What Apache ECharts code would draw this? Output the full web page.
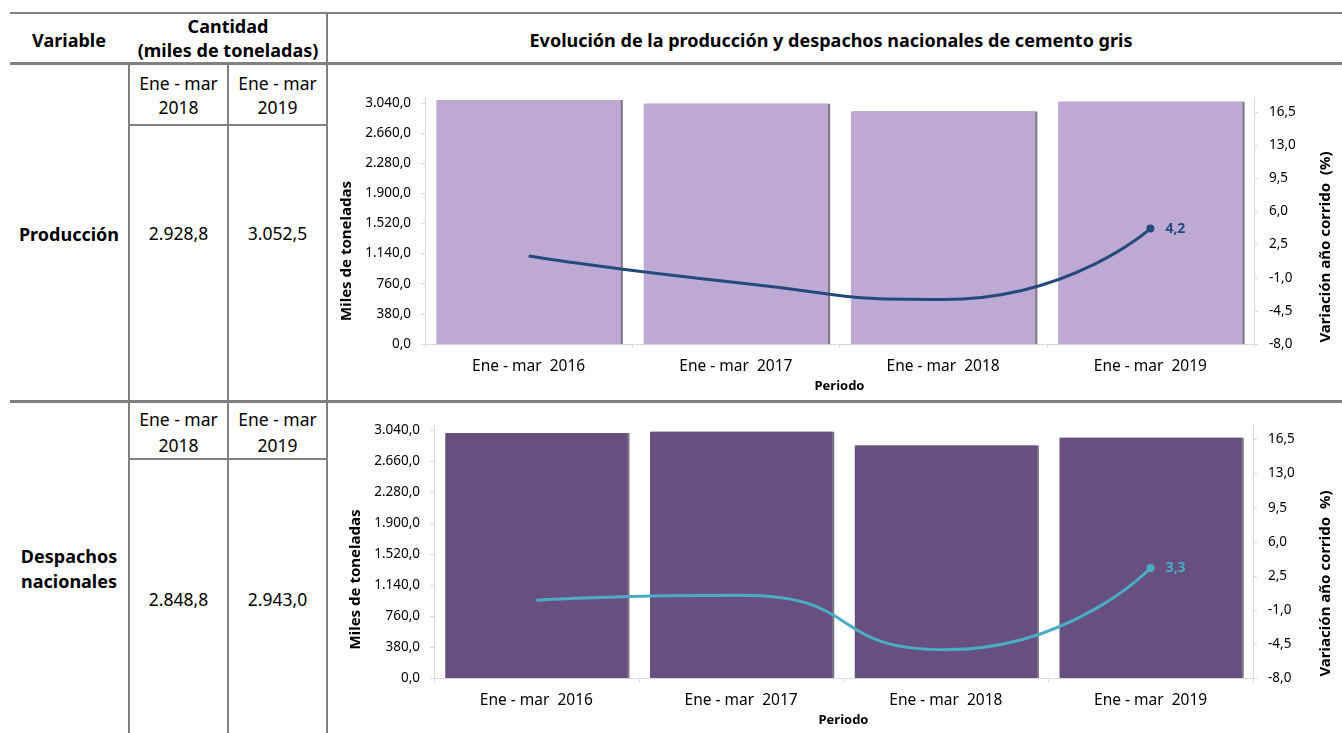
<!DOCTYPE html>
<html>
<head>
<meta charset="utf-8">
<script src="https://cdn.jsdelivr.net/npm/echarts@6/dist/echarts.min.js"></script>
<style>
  html, body { margin: 0; padding: 0; background: #fff; }
  body { width: 1342px; height: 733px; position: relative; overflow: hidden; font-family: "Noto Sans", sans-serif; color: #000; }
  .t { position: absolute; transform: translate(-50%, -50%); white-space: nowrap; font-size: 17.5px; line-height: 1; }
  .b { font-weight: bold; font-size: 18px; }
  .ln { position: absolute; background: #808080; }
  .chart { position: absolute; left: 330px; width: 1012px; }
</style>
</head>
<body>
<!-- lineas de la tabla -->
<div class="ln" style="left:10px;top:12px;width:1332px;height:2px"></div>
<div class="ln" style="left:10px;top:62px;width:1332px;height:3px"></div>
<div class="ln" style="left:10px;top:400px;width:1332px;height:3px"></div>
<div class="ln" style="left:128px;top:64px;width:2px;height:669px"></div>
<div class="ln" style="left:227px;top:64px;width:2px;height:669px"></div>
<div class="ln" style="left:326px;top:12px;width:2px;height:721px"></div>
<div class="ln" style="left:129px;top:124px;width:198px;height:2px"></div>
<div class="ln" style="left:129px;top:458px;width:198px;height:2px"></div>

<div class="t b" style="left:69px;top:40px">Variable</div>
<div class="t b" style="left:228px;top:26px">Cantidad</div>
<div class="t b" style="left:228px;top:50px">(miles de toneladas)</div>
<div class="t b" style="left:831px;top:40px">Evolución de la producción y despachos nacionales de cemento gris</div>

<div id="tabla"></div>

<div id="c1" class="chart" style="top:66px;height:334px"></div>
<div id="c2" class="chart" style="top:404px;height:329px"></div>

<script>
const periodos = ['Ene - mar  2016', 'Ene - mar  2017', 'Ene - mar  2018', 'Ene - mar  2019'];
const produccion = [3074, 3028, 2928.8, 3052.5];
const varProduccion = [1.3, -1.5, -3.3, 4.2];
const despachos = [3001, 3017, 2848.8, 2943.0];
const varDespachos = [0.0, 0.5, -5.1, 3.3];

const variables = ['Producción', 'Despachos nacionales'];
const colPeriodos = [['Ene - mar', '2018'], ['Ene - mar', '2019']];
const cantidades = [[2928.8, 3052.5], [2848.8, 2943.0]];

function fmt(v, d) {
  let s = Math.abs(v).toFixed(d).split('.');
  let ent = s[0].replace(/\B(?=(\d{3})+(?!\d))/g, '.');
  return (v < 0 ? '-' : '') + ent + (d ? ',' + s[1] : '');
}

// celdas de la tabla
let tabla = document.getElementById('tabla');
function celda(txt, x, y, bold) {
  let d = document.createElement('div');
  d.className = 't' + (bold ? ' b' : '');
  d.style.left = x + 'px';
  d.style.top = y + 'px';
  d.textContent = txt;
  tabla.appendChild(d);
}
const filas = [
  {per: [84, 108], nom: [234], val: 234},
  {per: [420, 446], nom: [556, 581], val: 600}
];
const colX = [178.5, 277.5];
filas.forEach((f, i) => {
  let partes = i === 0 ? [variables[0]] : variables[1].split(' ');
  partes.forEach((p, k) => celda(p, 69, f.nom[k], true));
  colPeriodos.forEach((cp, c) => {
    celda(cp[0], colX[c], f.per[0]);
    celda(cp[1], colX[c], f.per[1]);
    celda(fmt(cantidades[i][c], 1), colX[c], f.val);
  });
});

function opcion(barras, variacion, colorBar, colorLinea, g, nombreDer) {
  const gris = {lineStyle: {color: '#d9d9d9'}};
  const fuente = {color: '#000', fontFamily: 'Noto Sans'};
  return {
    animation: false,
    grid: {left: g.left, right: g.right, top: g.top, bottom: g.bottom, outerBoundsMode: 'none'},
    xAxis: {
      type: 'category',
      data: periodos,
      name: 'Periodo',
      nameLocation: 'middle',
      nameGap: g.nameB,
      nameTextStyle: Object.assign({fontWeight: 'bold', fontSize: 13}, fuente),
      axisLine: gris,
      axisTick: {show: true, length: 4, lineStyle: {color: '#d9d9d9'}},
      axisLabel: Object.assign({fontSize: 15.5, margin: 15}, fuente)
    },
    yAxis: [{
      type: 'value', min: 0, max: 3100, interval: 380,
      name: 'Miles de toneladas', nameLocation: 'middle', nameGap: g.nameL,
      nameTextStyle: Object.assign({fontWeight: 'bold', fontSize: 15, padding: [0, g.padL, 0, 0]}, fuente),
      axisLine: Object.assign({show: true}, gris),
      axisTick: {show: true, length: 4, lineStyle: {color: '#d9d9d9'}},
      splitLine: {show: false},
      axisLabel: Object.assign({fontSize: 13.5, margin: 14, showMaxLabel: false,
        formatter: v => fmt(v, 1)}, fuente)
    }, {
      type: 'value', min: -8, max: 18, interval: 3.5, position: 'right',
      name: nombreDer, nameLocation: 'middle', nameGap: g.nameR, nameRotate: 90,
      nameTextStyle: Object.assign({fontWeight: 'bold', fontSize: 15, padding: [0, g.padR, 0, 0]}, fuente),
      axisLine: Object.assign({show: true}, gris),
      axisTick: {show: true, length: 4, lineStyle: {color: '#d9d9d9'}},
      splitLine: {show: false},
      axisLabel: Object.assign({fontSize: 13.5, margin: 15, showMaxLabel: false,
        formatter: v => fmt(v, 1)}, fuente)
    }],
    series: [{
      type: 'bar',
      data: barras,
      barCategoryGap: '11%',
      itemStyle: {color: colorBar, shadowColor: 'rgba(70,60,80,0.7)', shadowOffsetX: 2, shadowBlur: 0}
    }, {
      type: 'line',
      yAxisIndex: 1,
      smooth: 0.6,
      lineStyle: {color: colorLinea, width: 3},
      itemStyle: {color: colorLinea},
      data: variacion.map((v, i) => i === variacion.length - 1
        ? {value: v, symbol: 'circle', symbolSize: 8,
           label: {show: true, position: 'right', distance: 11, fontWeight: 'bold', fontSize: 14,
                   color: colorLinea, fontFamily: 'Noto Sans', formatter: p => fmt(p.value, 1)}}
        : {value: v, symbol: 'none'})
    }]
  };
}

echarts.init(document.getElementById('c1')).setOption(opcion(produccion, varProduccion, '#bda9d3', '#244a7c',
  {left: 95, right: 88, top: 32, bottom: 56, nameL: 70, nameR: 64, nameB: 35, padL: 60, padR: 52}, 'Variación año corrido  (%)'));
echarts.init(document.getElementById('c2')).setOption(opcion(despachos, varDespachos, '#67507f', '#4bacc6',
  {left: 104, right: 89, top: 21, bottom: 55, nameL: 71, nameR: 65, nameB: 32, padL: 56, padR: 64}, 'Variación año corrido  %)'));
</script>
</body>
</html>
